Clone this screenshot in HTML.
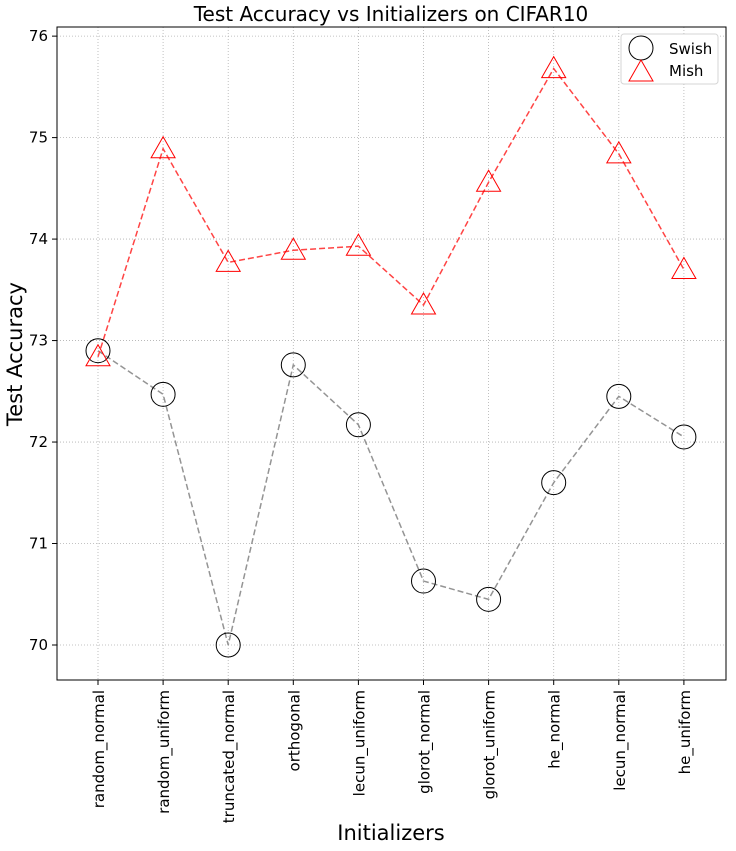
<!DOCTYPE html>
<html><head><meta charset="utf-8"><style>
body{margin:0;background:#fff;}
svg{display:block;font-family:"DejaVu Sans","Liberation Sans",sans-serif;}
</style></head><body>
<svg id="chart" width="736" height="851"></svg>
<script>
const categories=["random_normal","random_uniform","truncated_normal","orthogonal","lecun_uniform","glorot_normal","glorot_uniform","he_normal","lecun_normal","he_uniform"];
const swishValues=[72.90,72.47,70.00,72.76,72.17,70.63,70.45,71.60,72.45,72.05];
const mishValues=[72.84,74.89,73.77,73.89,73.93,73.35,74.56,75.68,74.84,73.70];
const yTicks=[70,71,72,73,74,75,76];
const NS="http://www.w3.org/2000/svg";
const svg=document.getElementById('chart');
const L=57,R=726,T=27,B=680,yMin=69.655,yMax=76.09;
const x0=98,dx=65.1;
function xs(i){return x0+i*dx;}
function ys(v){return B-(v-yMin)/(yMax-yMin)*(B-T);}
function el(tag,attrs,parent){const e=document.createElementNS(NS,tag);for(const k in attrs)e.setAttribute(k,attrs[k]);(parent||svg).appendChild(e);return e;}
const title=el('text',{x:391,y:21,'text-anchor':'middle','font-size':20,fill:'#000'});title.textContent='Test Accuracy vs Initializers on CIFAR10';


categories.forEach((c,i)=>{const g=el('line',{x1:xs(i),x2:xs(i),y1:T,y2:B,stroke:'#b0b0b0','stroke-width':0.8,'stroke-dasharray':'1,2'});


el('line',{x1:xs(i),x2:xs(i),y1:B,y2:B+5,stroke:'#000'});
const t=el('text',{transform:`translate(${xs(i)+6},${B+10}) rotate(-90)`,'text-anchor':'end','font-size':15,fill:'#000'});t.textContent=c;

});
yTicks.forEach(v=>{const g=el('line',{x1:L,x2:R,y1:ys(v),y2:ys(v),stroke:'#b0b0b0','stroke-width':0.8,'stroke-dasharray':'1,2'});


el('line',{x1:L-5,x2:L,y1:ys(v),y2:ys(v),stroke:'#000'});
const t=el('text',{x:L-9,y:ys(v)+5,'text-anchor':'end','font-size':15,fill:'#000'});t.textContent=v;

});
const frame=el('rect',{x:L,y:T,width:R-L,height:B-T,fill:'none',stroke:'#000','stroke-width':1});


const yl=el('text',{transform:'translate(22,354) rotate(-90)','text-anchor':'middle','font-size':21,fill:'#000'});yl.textContent='Test Accuracy';


const xl=el('text',{x:391,y:840,'text-anchor':'middle','font-size':21,fill:'#000'});xl.textContent='Initializers';


const sl=el('polyline',{points:swishValues.map((v,i)=>xs(i)+','+ys(v)).join(' '),fill:'none',stroke:'#888','stroke-width':1.5,'stroke-dasharray':'6,3','opacity':0.9});


const ml=el('polyline',{points:mishValues.map((v,i)=>xs(i)+','+ys(v)).join(' '),fill:'none',stroke:'#ff4444','stroke-width':1.5,'stroke-dasharray':'6,3'});


function tri(cx,cy){return `${cx},${cy-12} ${cx-12},${cy+9} ${cx+12},${cy+9}`;}
swishValues.forEach((v,i)=>{const c=el('circle',{cx:xs(i),cy:ys(v),r:12,fill:'none',stroke:'#000','stroke-width':1});

});
mishValues.forEach((v,i)=>{const p=el('polygon',{points:tri(xs(i),ys(v)),fill:'none',stroke:'#ff0000','stroke-width':1});

});
const lg=el('g',{});


el('rect',{x:621,y:34,width:97,height:50,rx:3,fill:'#fff',stroke:'#ccc','stroke-opacity':0.8},lg);
el('circle',{cx:641,cy:48,r:12,fill:'none',stroke:'#000'},lg);
const t1=el('text',{x:669,y:54,'font-size':15},lg);t1.textContent='Swish';


el('polygon',{points:tri(641,72),fill:'none',stroke:'#ff0000'},lg);
const t2=el('text',{x:669,y:76,'font-size':15},lg);t2.textContent='Mish';


</script>
</body></html>
